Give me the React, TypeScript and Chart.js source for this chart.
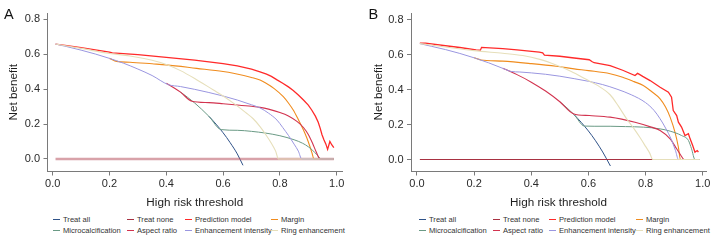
import React, { useEffect, useRef } from 'react';
import { Chart, registerables } from 'chart.js';
Chart.register(...registerables);

const FONT = "'Liberation Sans', Arial, Helvetica, sans-serif";

const seriesNames = ['Treat all', 'Treat none', 'Prediction model', 'Margin', 'Microcalcification', 'Aspect ratio', 'Enhancement intensity', 'Ring enhancement'];
const seriesColors = ['#2f5288', '#a83242', '#ff2a2a', '#f08c1e', '#6a9a85', '#d2334f', '#9a96e0', '#e6dfba'];
const seriesWidths = [1, 1, 1.3, 1.1, 1, 1.1, 1, 1.1];
const seriesSmooth = [true, false, false, true, true, true, true, true];

const xTickValues = [0, 0.2, 0.4, 0.6, 0.8, 1.0];
const yTickValues = [0, 0.2, 0.4, 0.6, 0.8];

// ---------- Panel A ----------
const thrA_all = [0.01, 0.05, 0.1, 0.15, 0.2, 0.25, 0.3, 0.35, 0.4, 0.45, 0.5, 0.55, 0.6, 0.625, 0.65, 0.67];
const nbA_all = [0.657, 0.642, 0.622, 0.6, 0.575, 0.547, 0.514, 0.477, 0.433, 0.382, 0.32, 0.244, 0.15, 0.093, 0.029, -0.036];
const thrA_none = [0.01, 0.99];
const nbA_none = [0, 0];
const thrA_pred = [0.01, 0.05, 0.1, 0.15, 0.2, 0.21, 0.3, 0.4, 0.5, 0.6, 0.65, 0.7, 0.73, 0.753, 0.77, 0.79, 0.81, 0.83, 0.847, 0.865, 0.883, 0.9, 0.912, 0.925, 0.935, 0.942, 0.948, 0.955, 0.962, 0.968, 0.976, 0.983, 0.99];
const nbA_pred = [0.657, 0.648, 0.636, 0.623, 0.611, 0.606, 0.596, 0.581, 0.565, 0.545, 0.532, 0.513, 0.498, 0.485, 0.472, 0.452, 0.433, 0.412, 0.392, 0.366, 0.337, 0.308, 0.28, 0.245, 0.21, 0.175, 0.14, 0.11, 0.085, 0.055, 0.1, 0.08, 0.065];
const thrA_margin = [0.01, 0.05, 0.1, 0.15, 0.2, 0.225, 0.272, 0.35, 0.4, 0.507, 0.6, 0.636, 0.7, 0.73, 0.75, 0.78, 0.812, 0.83, 0.847, 0.865, 0.883, 0.895, 0.906, 0.913, 0.92, 0.99];
const nbA_margin = [0.657, 0.642, 0.622, 0.6, 0.575, 0.558, 0.553, 0.544, 0.538, 0.518, 0.5, 0.49, 0.466, 0.451, 0.434, 0.402, 0.356, 0.32, 0.28, 0.225, 0.166, 0.12, 0.07, 0.035, 0, 0];
const thrA_micro = [0.01, 0.05, 0.1, 0.15, 0.2, 0.25, 0.3, 0.35, 0.4, 0.45, 0.5, 0.55, 0.593, 0.65, 0.7, 0.75, 0.8, 0.85, 0.88, 0.9, 0.915, 0.93, 0.947, 0.99];
const nbA_micro = [0.657, 0.642, 0.622, 0.6, 0.575, 0.547, 0.514, 0.477, 0.433, 0.382, 0.32, 0.244, 0.168, 0.164, 0.158, 0.148, 0.133, 0.11, 0.09, 0.07, 0.05, 0.025, 0, 0];
const thrA_aspect = [0.01, 0.05, 0.1, 0.15, 0.2, 0.25, 0.3, 0.35, 0.4, 0.45, 0.49, 0.55, 0.6, 0.65, 0.7, 0.73, 0.76, 0.8, 0.83, 0.86, 0.883, 0.9, 0.915, 0.928, 0.941, 0.99];
const nbA_aspect = [0.657, 0.642, 0.622, 0.6, 0.575, 0.547, 0.514, 0.477, 0.433, 0.382, 0.33, 0.322, 0.316, 0.309, 0.301, 0.295, 0.285, 0.266, 0.246, 0.215, 0.18, 0.14, 0.09, 0.04, 0, 0];
const thrA_enh = [0.01, 0.05, 0.1, 0.15, 0.2, 0.25, 0.3, 0.35, 0.407, 0.45, 0.5, 0.55, 0.6, 0.65, 0.7, 0.73, 0.76, 0.79, 0.81, 0.83, 0.85, 0.865, 0.877, 0.99];
const nbA_enh = [0.657, 0.642, 0.622, 0.6, 0.575, 0.547, 0.514, 0.477, 0.425, 0.414, 0.398, 0.38, 0.36, 0.337, 0.31, 0.292, 0.262, 0.222, 0.18, 0.135, 0.085, 0.045, 0, 0];
const thrA_ring = [0.01, 0.1, 0.2, 0.272, 0.35, 0.4, 0.45, 0.5, 0.566, 0.6, 0.64, 0.68, 0.706, 0.73, 0.75, 0.77, 0.785, 0.795, 0.99];
const nbA_ring = [0.657, 0.632, 0.603, 0.589, 0.564, 0.54, 0.505, 0.46, 0.394, 0.36, 0.315, 0.265, 0.23, 0.185, 0.14, 0.09, 0.045, 0, 0];
// thresholds below which a curve lies hidden under a later-drawn curve
const hiddenUntilA = [0.55, 0, 0, 0.2, 0.45, 0.4, 0, 0];

// ---------- Panel B ----------
const thrB_all = [0.01, 0.05, 0.1, 0.15, 0.2, 0.25, 0.3, 0.35, 0.4, 0.45, 0.5, 0.55, 0.6, 0.625, 0.65, 0.677];
const nbB_all = [0.662, 0.647, 0.628, 0.606, 0.581, 0.553, 0.521, 0.485, 0.442, 0.391, 0.33, 0.256, 0.163, 0.107, 0.043, -0.037];
const thrB_none = [0.01, 0.99];
const nbB_none = [0, 0];
const thrB_pred = [0.01, 0.03, 0.1, 0.15, 0.207, 0.222, 0.226, 0.3, 0.35, 0.428, 0.44, 0.446, 0.5, 0.55, 0.603, 0.612, 0.62, 0.676, 0.72, 0.763, 0.772, 0.78, 0.79, 0.816, 0.851, 0.88, 0.891, 0.897, 0.909, 0.915, 0.926, 0.938, 0.95, 0.956, 0.965, 0.973, 0.981, 0.985];
const nbB_pred = [0.665, 0.665, 0.65, 0.64, 0.627, 0.625, 0.641, 0.633, 0.626, 0.613, 0.61, 0.597, 0.59, 0.58, 0.57, 0.56, 0.553, 0.537, 0.51, 0.48, 0.492, 0.485, 0.475, 0.451, 0.413, 0.385, 0.356, 0.28, 0.251, 0.213, 0.185, 0.137, 0.147, 0.118, 0.08, 0.042, 0.051, 0.042];
const thrB_margin = [0.01, 0.05, 0.1, 0.15, 0.2, 0.224, 0.3, 0.4, 0.487, 0.55, 0.6, 0.676, 0.72, 0.76, 0.792, 0.82, 0.851, 0.87, 0.886, 0.903, 0.915, 0.922, 0.99];
const nbB_margin = [0.662, 0.647, 0.628, 0.606, 0.581, 0.569, 0.562, 0.548, 0.533, 0.518, 0.508, 0.49, 0.47, 0.445, 0.423, 0.39, 0.347, 0.3, 0.242, 0.156, 0.07, 0, 0];
const thrB_micro = [0.01, 0.05, 0.1, 0.15, 0.2, 0.25, 0.3, 0.35, 0.4, 0.45, 0.5, 0.55, 0.586, 0.62, 0.676, 0.73, 0.792, 0.851, 0.886, 0.926, 0.95, 0.961, 0.973, 0.99];
const nbB_micro = [0.662, 0.647, 0.628, 0.606, 0.581, 0.553, 0.521, 0.485, 0.442, 0.391, 0.33, 0.256, 0.191, 0.19, 0.19, 0.188, 0.185, 0.175, 0.162, 0.137, 0.109, 0.061, 0, 0];
const thrB_aspect = [0.01, 0.05, 0.1, 0.15, 0.2, 0.25, 0.3, 0.35, 0.4, 0.45, 0.5, 0.547, 0.603, 0.676, 0.763, 0.82, 0.851, 0.886, 0.909, 0.925, 0.935, 0.99];
const nbB_aspect = [0.662, 0.647, 0.628, 0.606, 0.581, 0.553, 0.521, 0.485, 0.442, 0.391, 0.33, 0.262, 0.251, 0.242, 0.213, 0.185, 0.166, 0.118, 0.061, 0.02, 0, 0];
const thrB_enh = [0.01, 0.05, 0.1, 0.15, 0.2, 0.25, 0.3, 0.33, 0.36, 0.4, 0.45, 0.5, 0.55, 0.6, 0.65, 0.7, 0.75, 0.8, 0.83, 0.85, 0.87, 0.89, 0.905, 0.915, 0.99];
const nbB_enh = [0.662, 0.647, 0.628, 0.606, 0.581, 0.553, 0.521, 0.503, 0.5, 0.495, 0.487, 0.476, 0.462, 0.447, 0.428, 0.402, 0.37, 0.325, 0.28, 0.235, 0.18, 0.115, 0.05, 0, 0];
const thrB_ring = [0.01, 0.1, 0.2, 0.224, 0.3, 0.37, 0.43, 0.487, 0.54, 0.592, 0.63, 0.676, 0.705, 0.734, 0.76, 0.78, 0.8, 0.815, 0.825, 0.99];
const nbB_ring = [0.662, 0.643, 0.622, 0.618, 0.607, 0.594, 0.572, 0.54, 0.503, 0.458, 0.425, 0.37, 0.305, 0.232, 0.175, 0.127, 0.075, 0.035, 0, 0];
const hiddenUntilB = [0.55, 0, 0, 0.2, 0.5, 0.3, 0, 0];

const panelA = {
  letter: 'A',
  thr: [thrA_all, thrA_none, thrA_pred, thrA_margin, thrA_micro, thrA_aspect, thrA_enh, thrA_ring],
  nb: [nbA_all, nbA_none, nbA_pred, nbA_margin, nbA_micro, nbA_aspect, nbA_enh, nbA_ring],
  hidden: hiddenUntilA,
};
const panelB = {
  letter: 'B',
  thr: [thrB_all, thrB_none, thrB_pred, thrB_margin, thrB_micro, thrB_aspect, thrB_enh, thrB_ring],
  nb: [nbB_all, nbB_none, nbB_pred, nbB_margin, nbB_micro, nbB_aspect, nbB_enh, nbB_ring],
  hidden: hiddenUntilB,
};

type Layout = {
  yAxisWidth: number; padRight: number; xMin: number; xMax: number; yMin: number; yMax: number;
  yTitlePad: number; letterLeft: number; legendX: number[]; noneColor: string; noneWidth: number;
};

const layoutA: Layout = { yAxisWidth: 47.5, padRight: 16, xMin: -0.0183, xMax: 1.0187, yMin: -0.0714286, yMax: 0.834286, yTitlePad: 6.5, letterLeft: 4, legendX: [53, 127, 185, 271], noneColor: 'rgba(178,70,84,0.5)', noneWidth: 2.6 };
const layoutB: Layout = { yAxisWidth: 53, padRight: 10, xMin: -0.021, xMax: 1.0116, yMin: -0.0685714, yMax: 0.837143, yTitlePad: 13.5, letterLeft: 10.5, legendX: [61, 135, 191, 278], noneColor: '#a83242', noneWidth: 1.1 };

function Panel({ panel, layout, left }: { panel: typeof panelA; layout: Layout; left: number }) {
  const ref = useRef<HTMLCanvasElement>(null);
  useEffect(() => {
    if (!ref.current) return;
    const datasets = panel.thr.map((thr, i) => {
      const color = i === 1 ? layout.noneColor : seriesColors[i];
      const hideUntil = panel.hidden[i];
      return {
        label: seriesNames[i],
        data: thr.map((t, k) => ({ x: t, y: panel.nb[i][k] })),
        borderColor: color,
        backgroundColor: color,
        borderWidth: i === 1 ? layout.noneWidth : seriesWidths[i],
        pointRadius: 0,
        pointHoverRadius: 0,
        fill: false,
        tension: 0,
        cubicInterpolationMode: seriesSmooth[i] ? 'monotone' : 'default',
        order: seriesNames.length - i,
        segment: {
          borderColor: (ctx: any) => (ctx.p1.parsed.x <= hideUntil + 1e-9 ? 'rgba(0,0,0,0)' : color),
        },
      };
    });
    const chart = new Chart(ref.current, {
      type: 'line',
      data: { datasets } as any,
      options: {
        animation: false,
        responsive: false,
        maintainAspectRatio: false,
        layout: { padding: { left: 0, top: 13, right: layout.padRight, bottom: 0.5 } },
        plugins: { legend: { display: false }, tooltip: { enabled: false } },
        events: [],
        scales: {
          x: {
            type: 'linear',
            min: layout.xMin,
            max: layout.xMax,
            afterBuildTicks: (s: any) => { s.ticks = xTickValues.map((v) => ({ value: v })); },
            afterFit: (s: any) => { s.height = 40; },
            ticks: { callback: (v: any) => Number(v).toFixed(1), font: { family: FONT, size: 11 }, color: '#2a2a2a', padding: 2, maxRotation: 0, autoSkip: false },
            grid: { display: true, drawOnChartArea: false, drawTicks: true, tickLength: 4, color: '#7a7a7a', lineWidth: 1 },
            border: { display: true, color: '#7a7a7a', width: 1 },
            title: { display: true, text: 'High risk threshold', font: { family: FONT, size: 11.7 }, color: '#1e1e1e', padding: { top: 0, bottom: 1.5 } },
          },
          y: {
            type: 'linear',
            min: layout.yMin,
            max: layout.yMax,
            afterBuildTicks: (s: any) => { s.ticks = yTickValues.map((v) => ({ value: v })); },
            afterFit: (s: any) => { s.width = layout.yAxisWidth; },
            ticks: { callback: (v: any) => Number(v).toFixed(1), font: { family: FONT, size: 11 }, color: '#2a2a2a', padding: 3.5 },
            grid: { display: true, drawOnChartArea: false, drawTicks: true, tickLength: 4, color: '#7a7a7a', lineWidth: 1 },
            border: { display: true, color: '#7a7a7a', width: 1 },
            title: { display: true, text: 'Net benefit', font: { family: FONT, size: 11.7 }, color: '#1e1e1e', padding: { top: layout.yTitlePad, bottom: 0 } },
          },
        },
      } as any,
    });
    return () => chart.destroy();
  }, [panel, layout]);

  return (
    <div style={{ position: 'absolute', left, top: 0, width: 358, height: 241 }}>
      <canvas ref={ref} width={358} height={212} style={{ position: 'absolute', left: 0, top: 0, width: 358, height: 212, display: 'block' }} />
      <div style={{ position: 'absolute', left: layout.letterLeft, top: 7, fontFamily: FONT, fontSize: 14.5, lineHeight: '14px', color: '#111' }}>{panel.letter}</div>
      {seriesNames.map((name, i) => (
        <div key={name} style={{ position: 'absolute', left: layout.legendX[i % 4], top: (i < 4 ? 219 : 230.7) - 5, height: 10, display: 'flex', alignItems: 'center', whiteSpace: 'nowrap', fontFamily: FONT, fontSize: 7.6, color: '#333' }}>
          <span style={{ display: 'inline-block', width: 7, height: 0, borderTop: `1px solid ${seriesColors[i]}`, marginRight: 3 }} />
          <span>{name}</span>
        </div>
      ))}
    </div>
  );
}

export default function App() {
  return (
    <div style={{ position: 'absolute', left: 0, top: 0, width: 716, height: 241, background: '#fff', overflow: 'hidden' }}>
      <Panel panel={panelA} layout={layoutA} left={0} />
      <Panel panel={panelB} layout={layoutB} left={358} />
    </div>
  );
}
